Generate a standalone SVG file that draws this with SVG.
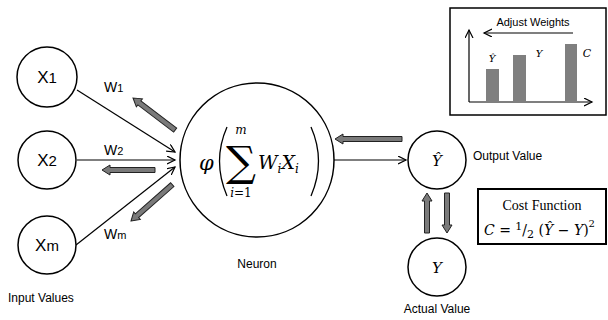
<svg xmlns="http://www.w3.org/2000/svg" width="608" height="320" viewBox="0 0 608 320">
<defs>
<style>
.c{fill:#fff;stroke:#000;stroke-width:1.5}
.l{stroke:#000;stroke-width:1.2;fill:none}
.t{font-family:"Liberation Sans","Open Sans",sans-serif;fill:#000}
.m{font-family:"DejaVu Serif","Liberation Serif",serif;font-style:italic;fill:#000}
.g{fill:#7a7a7a;stroke:#222;stroke-width:1}
</style>
<marker id="ah" markerWidth="10" markerHeight="10" refX="8" refY="4" orient="auto" markerUnits="userSpaceOnUse">
<path d="M0,0 L8,4 L0,8" fill="none" stroke="#000" stroke-width="1.2"/>
</marker>
</defs>
<rect width="608" height="320" fill="#fff"/>
<g id="connectors">
<line class="l" x1="77" y1="90" x2="175" y2="152" marker-end="url(#ah)"/>
<line class="l" x1="77" y1="160" x2="175" y2="160" marker-end="url(#ah)"/>
<line class="l" x1="76" y1="245" x2="175" y2="167" marker-end="url(#ah)"/>
<line class="l" x1="334" y1="160" x2="406" y2="160" marker-end="url(#ah)"/>
<path class="g" transform="translate(133,98) rotate(217.3)" d="M0,0 L-8,-5 L-8,-2.5 L-53,-2.5 L-53,2.5 L-8,2.5 L-8,5 Z"/>
<path class="g" transform="translate(102,170) rotate(180)" d="M0,0 L-8,-5 L-8,-2.5 L-53,-2.5 L-53,2.5 L-8,2.5 L-8,5 Z"/>
<path class="g" transform="translate(131,221) rotate(138.6)" d="M0,0 L-8,-5 L-8,-2.5 L-55,-2.5 L-55,2.5 L-8,2.5 L-8,5 Z"/>
<path class="g" transform="translate(335,139) rotate(180)" d="M0,0 L-8,-5 L-8,-2.5 L-67,-2.5 L-67,2.5 L-8,2.5 L-8,5 Z"/>
<path class="g" transform="translate(427,193) rotate(-90)" d="M0,0 L-8,-5 L-8,-2.5 L-40,-2.5 L-40,2.5 L-8,2.5 L-8,5 Z"/>
<path class="g" transform="translate(447,233) rotate(90)" d="M0,0 L-8,-5 L-8,-2.5 L-40,-2.5 L-40,2.5 L-8,2.5 L-8,5 Z"/>
<text class="t" x="104" y="92" font-size="14">W<tspan font-size="11">1</tspan></text>
<text class="t" x="104" y="155" font-size="14">W<tspan font-size="11">2</tspan></text>
<text class="t" x="104" y="239" font-size="14">W<tspan font-size="11">m</tspan></text>
</g>
<g id="x1">
<circle class="c" cx="47" cy="77" r="30"/>
<text class="t" x="47" y="83" font-size="17" text-anchor="middle">X<tspan font-size="15">1</tspan></text>
</g>
<g id="x2">
<circle class="c" cx="47" cy="160" r="29"/>
<text class="t" x="47" y="166" font-size="17" text-anchor="middle">X<tspan font-size="15">2</tspan></text>
</g>
<g id="xm">
<circle class="c" cx="47" cy="245" r="29"/>
<text class="t" x="47" y="251" font-size="17" text-anchor="middle">X<tspan font-size="15">m</tspan></text>
</g>
<text class="t" x="8" y="302" font-size="12">Input Values</text>
<g id="neuron">
<circle class="c" cx="257" cy="160" r="77"/>
<text class="m" x="199" y="170" font-size="21">φ</text>
<path d="M227,127 Q212,161 227,196" fill="none" stroke="#000" stroke-width="1.3"/>
<path d="M311,127 Q326,161 311,196" fill="none" stroke="#000" stroke-width="1.3"/>
<text x="241" y="176" font-family="DejaVu Serif,serif" font-size="42" text-anchor="middle">∑</text>
<text class="m" x="241" y="134" font-size="12" text-anchor="middle">m</text>
<text class="m" x="241" y="197" font-size="12" text-anchor="middle">i<tspan font-style="normal">=1</tspan></text>
<text class="m" x="258" y="169" font-size="19">W<tspan font-size="12" dy="4">i</tspan><tspan dy="-4">X</tspan><tspan font-size="12" dy="4">i</tspan></text>
<text class="t" x="257" y="268" font-size="12" text-anchor="middle">Neuron</text>
</g>
<g id="yhat">
<circle class="c" cx="437" cy="160" r="29"/>
<text class="m" x="437" y="166" font-size="15" text-anchor="middle">Ŷ</text>
<text class="t" x="473" y="160" font-size="12">Output Value</text>
</g>
<g id="y">
<circle class="c" cx="437" cy="267" r="29"/>
<text class="m" x="437" y="273" font-size="15" text-anchor="middle">Y</text>
<text class="t" x="437" y="313" font-size="12" text-anchor="middle">Actual Value</text>
</g>
<g id="cost">
<rect x="478" y="189" width="128" height="55" fill="#fff" stroke="#000" stroke-width="2"/>
<text x="542" y="210" font-family="Liberation Serif,serif" font-size="14" text-anchor="middle">Cost Function</text>
<text class="m" x="484" y="235" font-size="14">C <tspan font-style="normal">= </tspan><tspan font-style="normal" font-size="11" dy="-5">1</tspan><tspan font-style="normal" font-size="14" dy="5">/</tspan><tspan font-style="normal" font-size="11" dy="3">2</tspan><tspan font-style="normal" dy="-3"> (</tspan>Ŷ <tspan font-style="normal">−</tspan> Y<tspan font-style="normal">)</tspan><tspan font-style="normal" font-size="10" dy="-8">2</tspan></text>
</g>
<g id="adjust">
<rect x="450" y="8" width="156" height="107" fill="#fff" stroke="#000" stroke-width="1.5"/>
<text class="t" x="533" y="26" font-size="11" text-anchor="middle">Adjust Weights</text>
<line class="l" x1="573" y1="33" x2="484" y2="33" stroke-width="2" marker-end="url(#ah)"/>
<line class="l" x1="469" y1="102" x2="469" y2="30" stroke-width="2" marker-end="url(#ah)"/>
<line class="l" x1="469" y1="102" x2="592" y2="102" stroke-width="2" marker-end="url(#ah)"/>
<rect x="486" y="69" width="13" height="33" fill="#7f7f7f"/>
<rect x="513" y="55" width="13" height="47" fill="#7f7f7f"/>
<rect x="565" y="44" width="12" height="58" fill="#7f7f7f"/>
<text class="m" x="492" y="62" font-size="10" text-anchor="middle">Ŷ</text>
<text class="m" x="539" y="57" font-size="10" text-anchor="middle">Y</text>
<text class="m" x="587" y="57" font-size="11" text-anchor="middle">C</text>
</g>
</svg>
